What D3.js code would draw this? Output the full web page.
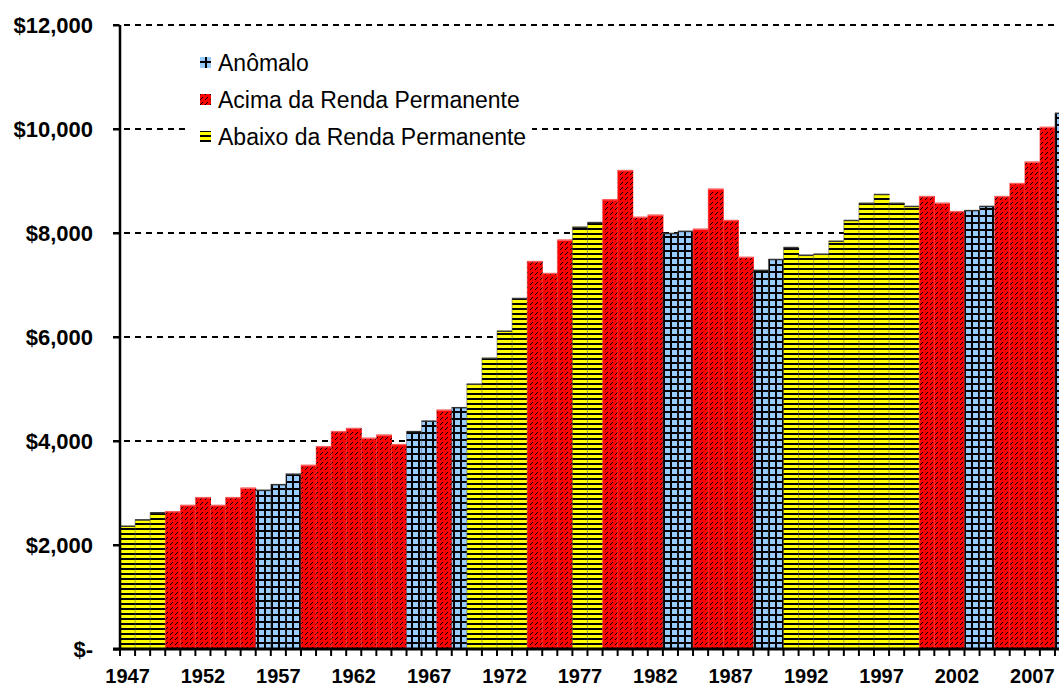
<!DOCTYPE html>
<html lang="en">
<head>
    <meta charset="UTF-8">
    <title>Renda Permanente</title>
    <style>
        body { margin: 0; background: #fff; }
        svg { display: block; font-family: "Liberation Sans", Arial, sans-serif; }
    </style>
</head>
<body>
    <div id="chart"></div>
    <script src="https://cdn.jsdelivr.net/npm/d3@7"></script>
    <script>
        // data
        var years = d3.range(1947, 2010);
        var values = [
            2370, 2490, 2630, 2650, 2770, 2920, 2770, 2920, 3100, 3060,
            3170, 3370, 3540, 3900, 4190, 4250, 4060, 4120, 3940, 4190,
            4390, 4600, 4650, 5100, 5600, 6120, 6750, 7460, 7230, 7870,
            8120, 8210, 8650, 9210, 8310, 8350, 8000, 8040, 8080, 8850,
            8250, 7540, 7290, 7500, 7730, 7580, 7600, 7850, 8250, 8580,
            8750, 8580, 8520, 8710, 8580, 8420, 8440, 8520, 8710, 8960,
            9370, 10040, 10310
        ];
        // B = Abaixo, R = Acima, A = Anômalo
        var groups = "BBBRRRRRRAAARRRRRRRAARABBBBRRRBBRRRRAARRRRAABBBBBBBBBRRRAARRRRA".split("");
        var seriesNames = ["Anômalo", "Acima da Renda Permanente", "Abaixo da Renda Permanente"];
        var seriesKeys = ["A", "R", "B"];
        var yTicks = [0, 2000, 4000, 6000, 8000, 10000, 12000];
        var labelYears = [1947, 1952, 1957, 1962, 1967, 1972, 1977, 1982, 1987, 1992, 1997, 2002, 2007];

        var data = years.map(function (y, i) {
            return { year: y, value: values[i], group: groups[i] };
        });

        var width = 1059, height = 688;
        var svg = d3.select("#chart").append("svg")
            .attr("width", width)
            .attr("height", height);

        // fill patterns
        var defs = svg.append("defs");

        var pA = defs.append("pattern").attr("id", "pat-A")
            .attr("patternUnits", "userSpaceOnUse").attr("width", 7).attr("height", 7);
        pA.append("rect").attr("width", 7).attr("height", 7).attr("fill", "#99ccff");
        pA.append("rect").attr("x", 5).attr("width", 2).attr("height", 7).attr("fill", "#000");
        pA.append("rect").attr("y", 5).attr("width", 7).attr("height", 2).attr("fill", "#000");

        // red: dashed diagonal lines
        var pR = defs.append("pattern").attr("id", "pat-R")
            .attr("patternUnits", "userSpaceOnUse").attr("width", 5).attr("height", 5);
        pR.append("rect").attr("width", 5).attr("height", 5).attr("fill", "#ff0000");
        [[0, 4], [1, 3], [2, 2]].forEach(function (p) {
            pR.append("rect").attr("x", p[0]).attr("y", p[1]).attr("width", 1).attr("height", 1).attr("fill", "#000");
        });

        var pB = defs.append("pattern").attr("id", "pat-B")
            .attr("patternUnits", "userSpaceOnUse").attr("width", 5).attr("height", 5);
        pB.append("rect").attr("width", 5).attr("height", 5).attr("fill", "#ffff00");
        pB.append("rect").attr("y", 3).attr("width", 5).attr("height", 2).attr("fill", "#000");

        var topColor = { A: "#333333", R: "#ff5a5a", B: "#3a3a3a" };

        // scales
        var x = d3.scaleBand()
            .domain(years)
            .range([120, 120 + years.length * 15.08])
            .padding(0);

        var y = d3.scaleLinear()
            .domain([0, 12000])
            .range([649, 25]);

        // gridlines
        svg.append("g")
            .selectAll("line")
            .data(yTicks.filter(function (d) { return d > 0; }))
            .enter()
            .append("line")
            .attr("x1", 113)
            .attr("x2", width)
            .attr("y1", function (d) { return y(d); })
            .attr("y2", function (d) { return y(d); })
            .attr("stroke", "#000")
            .attr("stroke-width", 2)
            .attr("stroke-dasharray", "6,5");

        // bars
        var bars = svg.append("g")
            .selectAll("g")
            .data(data)
            .enter()
            .append("g");

        bars.append("rect")
            .attr("x", function (d) { return x(d.year); })
            .attr("y", function (d) { return y(d.value); })
            .attr("width", x.bandwidth() + 0.5)
            .attr("height", function (d) { return y(0) - y(d.value); })
            .attr("fill", function (d) { return "url(#pat-" + d.group + ")"; });

        // faint separators between bars
        bars.append("line")
            .attr("x1", function (d) { return x(d.year); })
            .attr("x2", function (d) { return x(d.year); })
            .attr("y1", function (d) { return y(d.value); })
            .attr("y2", y(0))
            .attr("stroke", function (d) { return d.group === "R" ? "#ff6060" : "#555"; })
            .attr("stroke-opacity", 0.5)
            .attr("stroke-width", 1);

        // top edge
        bars.append("line")
            .attr("x1", function (d) { return x(d.year); })
            .attr("x2", function (d) { return x(d.year) + x.bandwidth(); })
            .attr("y1", function (d) { return y(d.value) + 0.5; })
            .attr("y2", function (d) { return y(d.value) + 0.5; })
            .attr("stroke", function (d) { return topColor[d.group]; })
            .attr("stroke-width", 1.5);

        // y axis
        var yAxis = svg.append("g")
            .attr("transform", "translate(120,0)")
            .call(d3.axisLeft(y)
                .tickValues(yTicks)
                .tickSize(7)
                .tickPadding(20)
                .tickFormat(function (d) { return d === 0 ? "$-" : "$" + d3.format(",")(d); }));
        yAxis.select(".domain").attr("stroke-width", 2.5).attr("d", "M0," + y(12000) + "V" + y(0));
        yAxis.selectAll(".tick line").attr("stroke-width", 2);
        yAxis.selectAll(".tick text")
            .style("font-size", "22px")
            .style("font-weight", "bold")
            .attr("fill", "#000");

        // x axis
        var xAxis = svg.append("g")
            .attr("transform", "translate(0," + y(0) + ")")
            .call(d3.axisBottom(x)
                .tickValues(labelYears)
                .tickSize(0)
                .tickPadding(20));
        xAxis.select(".domain").remove();
        xAxis.selectAll(".tick text")
            .style("font-size", "20px")
            .style("font-weight", "bold")
            .attr("fill", "#000");

        // x tick marks at the bar edges
        svg.append("g")
            .selectAll("line")
            .data(years)
            .enter()
            .append("line")
            .attr("x1", function (d) { return x(d); })
            .attr("x2", function (d) { return x(d); })
            .attr("y1", y(0))
            .attr("y2", y(0) + 7)
            .attr("stroke", "#000")
            .attr("stroke-width", 2);

        svg.append("line")
            .attr("x1", 113)
            .attr("x2", width)
            .attr("y1", y(0))
            .attr("y2", y(0))
            .attr("stroke", "#000")
            .attr("stroke-width", 3);

        // legend (white box hides the gridline behind it)
        svg.append("rect")
            .attr("x", 190)
            .attr("y", 42)
            .attr("width", 342)
            .attr("height", 112)
            .attr("fill", "#fff");

        var legend = svg.selectAll(".legend")
            .data(seriesKeys)
            .enter()
            .append("g")
            .attr("class", "legend")
            .attr("transform", function (d, i) { return "translate(200," + (63 + i * 37) + ")"; });

        legend.append("rect")
            .attr("x", 0)
            .attr("y", -6)
            .attr("width", 11)
            .attr("height", 11)
            .attr("fill", function (d) { return "url(#pat-" + d + ")"; });

        legend.append("text")
            .attr("x", 18)
            .attr("y", 0)
            .attr("dy", "0.35em")
            .style("font-size", "23px")
            .text(function (d, i) { return seriesNames[i]; });
    </script>
</body>
</html>
